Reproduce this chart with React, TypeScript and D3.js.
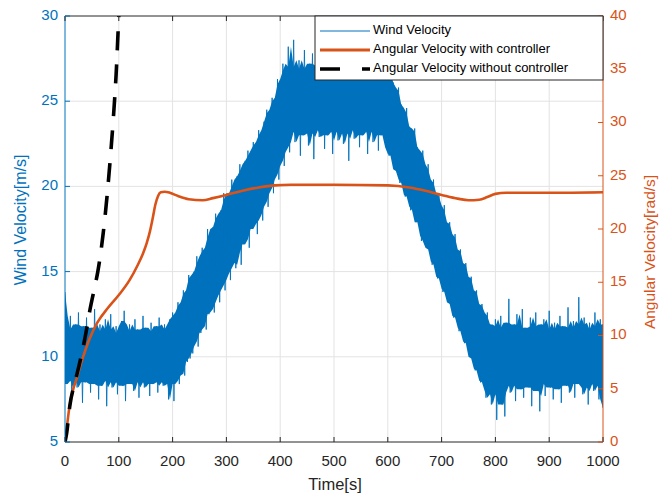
import React from 'react';
import * as d3 from 'd3';

// Wind velocity samples every 5 s (upper / lower extent of the fluctuation), m/s
const windStep = 5;
const windHigh = [
  13.8, 11.6, 12.4, 11.3, 11.9, 12.6, 11.4, 11.8, 12.3, 11.2, 11.7, 12.8, 11.5, 11.9, 11.3, 12.2, 11.6, 12.5, 11.4, 11.8,
  11.2, 12.1, 12.7, 11.5, 11.9, 11.3, 12.2, 11.6, 11.4, 12.4, 11.7, 11.2, 12.0, 11.5, 11.8, 12.3, 11.4, 11.9, 11.6, 12.2,
  12.6, 12.4, 13.2, 13.0, 13.9, 13.7, 14.8, 14.6, 15.0, 15.9, 15.5, 16.4, 16.2, 17.5, 17.0, 17.6, 18.4, 18.1, 18.6, 19.6,
  19.2, 19.6, 20.4, 20.0, 20.6, 21.3, 20.9, 21.5, 22.1, 21.8, 22.6, 22.4, 23.3, 23.0, 23.8, 24.5, 24.3, 25.2, 25.0, 26.3,
  26.0, 27.2, 26.8, 28.2,
  27.0, 28.6, 26.6, 27.4, 26.9, 28.0, 26.5, 27.2, 27.8, 26.7, 27.1, 26.4, 28.3, 26.9, 27.3, 26.6, 27.7, 26.8, 27.0, 28.1,
  26.5, 27.2, 26.9, 27.6, 26.4, 27.1, 28.4, 26.7, 27.0, 26.6, 27.5, 26.8, 27.9, 26.5, 27.2,
  27.4, 26.8, 27.0, 26.1, 25.6, 25.8, 24.8, 24.3, 24.6, 23.5, 23.2, 23.4, 22.3, 21.9, 22.1, 21.0, 21.3, 20.2, 20.4, 19.4,
  19.6, 18.6, 18.9, 17.8, 17.9, 17.0, 17.2, 16.2, 16.3, 15.4, 15.5, 14.6, 14.7, 13.8, 13.9, 13.0, 13.1, 12.4, 12.6, 11.9,
  11.8, 12.2, 11.5, 12.4, 11.7, 12.0, 13.4, 11.6, 11.9, 12.5, 11.3, 12.8, 11.7, 11.4, 12.3, 11.8, 12.6, 11.5, 11.9, 12.2,
  11.4, 12.7, 11.6, 12.0, 11.3, 12.4, 11.8, 11.5, 12.9, 11.7, 12.1, 11.4, 13.5, 11.9, 12.3, 11.6, 12.0, 11.5, 12.6, 11.8,
  12.2, 11.9,
];
const windLow = [
  8.4, 8.9, 7.6, 8.6, 8.2, 8.8, 7.3, 8.5, 8.7, 7.9, 8.4, 8.8, 7.5, 8.3, 8.6, 7.1, 8.7, 8.2, 8.5, 7.8,
  8.6, 8.3, 7.4, 8.8, 8.4, 8.0, 8.7, 7.6, 8.5, 8.2, 8.8, 7.7, 8.4, 8.6, 7.9, 8.5, 8.3, 8.7, 7.5, 8.4,
  7.4, 8.6, 8.4, 9.0, 8.9, 9.7, 9.9, 10.2, 10.9, 10.6, 11.4, 11.8, 11.6, 12.5, 12.8, 12.6, 13.6, 13.2, 14.2, 13.9,
  14.9, 14.5, 15.5, 15.2, 16.1, 15.4, 16.6, 16.9, 16.4, 17.5, 17.8, 17.2, 18.3, 18.0, 19.1, 18.8, 19.9, 19.6, 20.7, 20.4,
  21.5, 21.2, 22.3, 22.0,
  23.2, 22.6, 23.5, 21.8, 23.0, 23.4, 22.4, 23.1, 21.6, 23.3, 22.9, 23.5, 22.2, 23.0, 23.4, 21.9, 23.2, 22.7, 23.5, 22.5,
  23.1, 21.5, 23.3, 22.8, 23.4, 22.3, 23.0, 23.5, 21.9, 23.2, 22.6, 23.4, 22.1, 23.0, 23.3,
  22.3, 21.8, 21.9, 21.0, 20.9, 20.2, 20.4, 19.4, 19.5, 18.6, 18.8, 17.9, 17.9, 16.8, 17.1, 16.4, 16.3, 15.4, 15.6, 14.6,
  14.7, 13.8, 14.0, 13.2, 13.1, 12.3, 12.4, 11.5, 11.7, 10.8, 10.9, 10.0, 9.9, 9.2, 9.3, 8.5, 8.6, 7.6, 8.0, 7.2,
  7.8, 6.3, 8.4, 7.2, 6.5, 8.6, 7.9, 8.3, 7.4, 8.7, 8.1, 7.6, 8.5, 8.2, 7.1, 8.6, 8.0, 6.8, 8.4, 7.7,
  8.5, 8.2, 7.5, 8.7, 8.1, 7.3, 8.6, 8.3, 7.9, 8.5, 7.6, 8.4, 8.7, 7.8, 8.2, 7.2, 8.6, 8.0, 8.4, 7.5,
  8.3, 7.0,
];

// Angular velocity with controller (rad/s)
const ctrlTime = [0, 3, 8, 15, 22, 30, 45, 60, 80, 100, 120, 135, 145, 152, 158, 163, 168, 173, 178, 185, 195, 210, 230, 256, 275, 300, 330, 360, 390, 420, 500, 600, 640, 660, 700, 730, 750, 770, 785, 800, 820, 900, 1000];
const ctrlValue = [0, 1.2, 3.2, 4.9, 6.0, 7.4, 9.6, 11.2, 12.6, 13.8, 15.2, 16.6, 17.7, 18.7, 19.8, 21.0, 22.3, 23.1, 23.45, 23.5, 23.4, 23.1, 22.8, 22.7, 22.9, 23.2, 23.6, 23.9, 24.1, 24.15, 24.15, 24.1, 23.9, 23.7, 23.2, 22.85, 22.7, 22.75, 23.0, 23.3, 23.4, 23.4, 23.45];

// Angular velocity without controller (rad/s)
const openTime = [0, 3, 9, 20, 28, 38, 46, 55, 61, 71, 78, 84, 90, 95, 100, 104];
const openValue = [0, 0.8, 3.4, 5.9, 7.6, 10.0, 12.3, 14.5, 16.0, 19.6, 23.0, 26.5, 30.5, 34.5, 40, 44];

const xTicks = [0, 100, 200, 300, 400, 500, 600, 700, 800, 900, 1000];
const leftTicks = [5, 10, 15, 20, 25, 30];
const rightTicks = [0, 5, 10, 15, 20, 25, 30, 35, 40];

const BLUE = '#0072BD';
const ORANGE = '#D95319';
const AXIS = '#262626';

export default function App() {
  const L = 65, R = 603, T = 16, B = 442;
  const x = d3.scaleLinear().domain([0, 1000]).range([L, R]);
  const yW = d3.scaleLinear().domain([5, 30]).range([B, T]);
  const yA = d3.scaleLinear().domain([0, 40]).range([B, T]);

  const n = Math.min(windHigh.length, windLow.length);
  const idx = d3.range(n);
  // dense core of the band: local median of the highs / lows
  const near = (arr: number[], i: number) => [arr[Math.max(0, i - 1)], arr[i], arr[Math.min(n - 1, i + 1)]];
  const coreHi = idx.map((i) => d3.median(near(windHigh, i)) as number);
  const coreLo = idx.map((i) => d3.median(near(windLow, i)) as number);
  const bandPath = d3.area<number>()
    .x((i) => x(i * windStep))
    .y0((i) => yW(coreLo[i]))
    .y1((i) => yW(coreHi[i]))(idx) || '';
  const zig: [number, number][] = [];
  idx.forEach((i) => {
    zig.push([x(i * windStep), yW(windHigh[i])]);
    zig.push([x(Math.min(1000, i * windStep + windStep / 2)), yW(windLow[i])]);
  });
  const zigPath = d3.line()(zig) || '';

  const ctrlPath = d3.line<number>()
    .x((i) => x(ctrlTime[i]))
    .y((i) => yA(ctrlValue[i]))
    .curve(d3.curveMonotoneX)(d3.range(ctrlTime.length)) || '';
  const openPath = d3.line<number>()
    .x((i) => x(openTime[i]))
    .y((i) => yA(openValue[i]))
    .curve(d3.curveMonotoneX)(d3.range(openTime.length)) || '';

  const font = "'Liberation Sans', Arial, Helvetica, sans-serif";
  const tick = 5;
  const tickFont = 15;

  return (
    <svg width={671} height={495} style={{ position: 'absolute', left: 0, top: 0, background: '#fff' }} fontFamily={font}>
      <defs>
        <clipPath id="plotClip">
          <rect x={L} y={T} width={R - L} height={B - T} />
        </clipPath>
      </defs>
      <rect x={L} y={T} width={R - L} height={B - T} fill="#fff" />
      {/* grid */}
      {xTicks.slice(1, -1).map((t) => (
        <line key={'gx' + t} x1={x(t)} x2={x(t)} y1={T} y2={B} stroke="#e3e3e3" strokeWidth={1} />
      ))}
      {leftTicks.slice(1, -1).map((v) => (
        <line key={'gy' + v} x1={L} x2={R} y1={yW(v)} y2={yW(v)} stroke="#e3e3e3" strokeWidth={1} />
      ))}
      <g clipPath="url(#plotClip)">
        <path d={bandPath} fill={BLUE} stroke="none" />
        <path d={zigPath} fill="none" stroke={BLUE} strokeWidth={0.9} />
        <path d={ctrlPath} fill="none" stroke={ORANGE} strokeWidth={2.6} strokeLinejoin="round" />
        <path d={openPath} fill="none" stroke="#000" strokeWidth={3.6} strokeDasharray="19 14" />
      </g>
      {/* axes */}
      <line x1={L} x2={R} y1={B} y2={B} stroke={AXIS} strokeWidth={1} />
      <line x1={L} x2={R} y1={T} y2={T} stroke={AXIS} strokeWidth={1} />
      <line x1={L} x2={L} y1={T} y2={B} stroke={BLUE} strokeWidth={1} />
      <line x1={R} x2={R} y1={T} y2={B} stroke={ORANGE} strokeWidth={1} />
      {xTicks.map((t) => (
        <g key={'xt' + t}>
          <line x1={x(t)} x2={x(t)} y1={B} y2={B - tick} stroke={AXIS} />
          <line x1={x(t)} x2={x(t)} y1={T} y2={T + tick} stroke={AXIS} />
          <text x={x(t)} y={462} textAnchor="middle" dominantBaseline="middle" fontSize={tickFont} fill={AXIS}>{t}</text>
        </g>
      ))}
      {leftTicks.map((v) => (
        <g key={'lt' + v}>
          <line x1={L} x2={L + tick} y1={yW(v)} y2={yW(v)} stroke={BLUE} />
          <text x={58} y={yW(v)} textAnchor="end" dominantBaseline="middle" fontSize={tickFont} fill={BLUE}>{v}</text>
        </g>
      ))}
      {rightTicks.map((v) => (
        <g key={'rt' + v}>
          <line x1={R} x2={R - tick} y1={yA(v)} y2={yA(v)} stroke={ORANGE} />
          <text x={610} y={yA(v)} textAnchor="start" dominantBaseline="middle" fontSize={tickFont} fill={ORANGE}>{v}</text>
        </g>
      ))}
      <text x={335} y={486} textAnchor="middle" dominantBaseline="middle" fontSize={16.5} fill={AXIS}>Time[s]</text>
      <text transform="translate(22,220) rotate(-90)" textAnchor="middle" dominantBaseline="middle" fontSize={16} fill={BLUE}>Wind Velocity[m/s]</text>
      <text transform="translate(651,252) rotate(-90)" textAnchor="middle" dominantBaseline="middle" fontSize={15.5} fill={ORANGE}>Angular Velocity[rad/s]</text>
      {/* legend */}
      <g>
        <rect x={315} y={16} width={288} height={64} fill="#fff" stroke={AXIS} strokeWidth={1} />
        <line x1={320} x2={370} y1={31} y2={31} stroke={BLUE} strokeWidth={1} />
        <text x={373} y={31} dominantBaseline="middle" fontSize={13} fill="#000">Wind Velocity</text>
        <line x1={320} x2={370} y1={50} y2={50} stroke={ORANGE} strokeWidth={3} />
        <text x={373} y={50} dominantBaseline="middle" fontSize={13} fill="#000">Angular Velocity with controller</text>
        <line x1={320} x2={370} y1={69} y2={69} stroke="#000" strokeWidth={3.6} strokeDasharray="20 22" />
        <text x={373} y={69} dominantBaseline="middle" fontSize={13} fill="#000">Angular Velocity without controller</text>
      </g>
    </svg>
  );
}
